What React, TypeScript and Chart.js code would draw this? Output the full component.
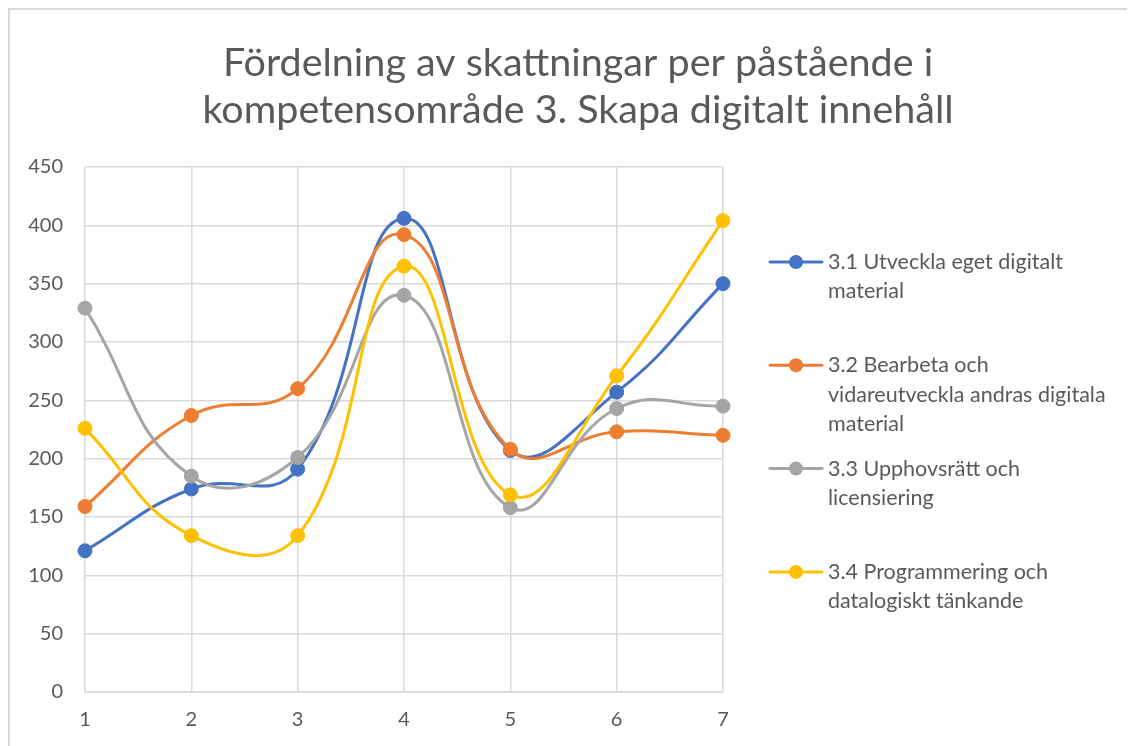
import React, { useEffect, useRef } from "react";
import { Chart, registerables } from "chart.js";

Chart.register(...registerables);

const titleLines = [
  "Fördelning av skattningar per påstående i",
  "kompetensområde 3. Skapa digitalt innehåll",
];

const categories = ["1", "2", "3", "4", "5", "6", "7"];

const seriesNames: string[][] = [
  ["3.1 Utveckla eget digitalt", "material"],
  ["3.2 Bearbeta och", "vidareutveckla andras digitala", "material"],
  ["3.3 Upphovsrätt och", "licensiering"],
  ["3.4 Programmering och", "datalogiskt tänkande"],
];

const series31 = [121, 174, 191, 406, 207, 257, 350];
const series32 = [159, 237, 260, 392, 208, 223, 220];
const series33 = [329, 185, 201, 340, 158, 243, 245];
const series34 = [226, 134, 134, 365, 169, 271, 404];

const seriesColors = ["#4472C4", "#ED7D31", "#A5A5A5", "#FFC000"];

const yMin = 0;
const yMax = 450;
const yStep = 50;

const FONT = "Lato, 'Open Sans', sans-serif";
const TEXT_COLOR = "#595959";
const GRID_COLOR = "#d9d9d9";

const titleAndLegendPlugin = {
  id: "titleAndLegend",
  afterDraw(chart: any) {
    const ctx = chart.ctx;
    const area = chart.chartArea;
    ctx.save();
    // Title
    ctx.fillStyle = TEXT_COLOR;
    ctx.font = `39.5px ${FONT}`;
    ctx.textAlign = "center";
    ctx.textBaseline = "alphabetic";
    const cx = 568;
    titleLines.forEach((line, i) => {
      ctx.fillText(line, cx, 66 + i * 47);
    });
    // Legend
    const x0 = area.right + 47;
    const x1 = area.right + 99;
    const tx = area.right + 105;
    const startY = area.top + 95;
    const step = 103.3;
    const lh = 29.5;
    ctx.font = `21.5px ${FONT}`;
    ctx.textAlign = "left";
    ctx.textBaseline = "middle";
    seriesNames.forEach((lines, i) => {
      const y = startY + i * step;
      const c = seriesColors[i];
      ctx.strokeStyle = c;
      ctx.lineWidth = 3;
      ctx.lineCap = "round";
      ctx.beginPath();
      ctx.moveTo(x0, y);
      ctx.lineTo(x1, y);
      ctx.stroke();
      ctx.fillStyle = c;
      ctx.beginPath();
      ctx.arc((x0 + x1) / 2, y, 7, 0, Math.PI * 2);
      ctx.fill();
      ctx.fillStyle = TEXT_COLOR;
      lines.forEach((t, j) => {
        ctx.fillText(t, tx, y + j * lh);
      });
    });
    ctx.restore();
  },
};

export default function App() {
  const canvasRef = useRef<HTMLCanvasElement | null>(null);

  useEffect(() => {
    if (!canvasRef.current) return;
    const allSeries = [series31, series32, series33, series34];
    const chart = new Chart(canvasRef.current, {
      type: "line",
      data: {
        labels: categories,
        datasets: allSeries.map((values, i) => ({
          label: seriesNames[i].join(" "),
          data: values,
          borderColor: seriesColors[i],
          backgroundColor: seriesColors[i],
          pointBackgroundColor: seriesColors[i],
          pointBorderColor: seriesColors[i],
          pointRadius: 7,
          pointBorderWidth: 1,
          borderWidth: 3,
          tension: 0.45,
          fill: false,
          clip: false as any,
          order: allSeries.length - i,
        })),
      },
      options: {
        animation: false,
        responsive: true,
        maintainAspectRatio: false,
        layout: {
          padding: { top: 157, right: 412, bottom: 14, left: 0 },
        },
        plugins: {
          legend: { display: false },
          title: { display: false },
          tooltip: { enabled: false },
        },
        scales: {
          x: {
            type: "category",
            offset: false,
            grid: {
              color: GRID_COLOR,
              lineWidth: 1.5,
              drawTicks: false,
            },
            border: { color: GRID_COLOR, width: 1.5 },
            ticks: {
              color: TEXT_COLOR,
              font: { family: FONT, size: 20 },
              padding: 16,
              maxRotation: 0,
            },
            afterFit(scale: any) {
              scale.height = 40;
            },
          },
          y: {
            min: yMin,
            max: yMax,
            grid: {
              color: GRID_COLOR,
              lineWidth: 1.5,
              drawTicks: false,
            },
            border: { display: false },
            ticks: {
              stepSize: yStep,
              color: TEXT_COLOR,
              font: { family: FONT, size: 20 },
              padding: 22,
            },
            afterFit(scale: any) {
              scale.width = 75;
            },
          },
        },
      },
      plugins: [titleAndLegendPlugin],
    });
    return () => chart.destroy();
  }, []);

  return (
    <div
      style={{
        width: 1127,
        height: 738,
        boxSizing: "border-box",
        borderTop: "2px solid #d9d9d9",
        borderLeft: "2px solid #d9d9d9",
        background: "#fff",
      }}
    >
      <div style={{ position: "relative", width: 1125, height: 736 }}>
        <canvas ref={canvasRef} />
      </div>
    </div>
  );
}
